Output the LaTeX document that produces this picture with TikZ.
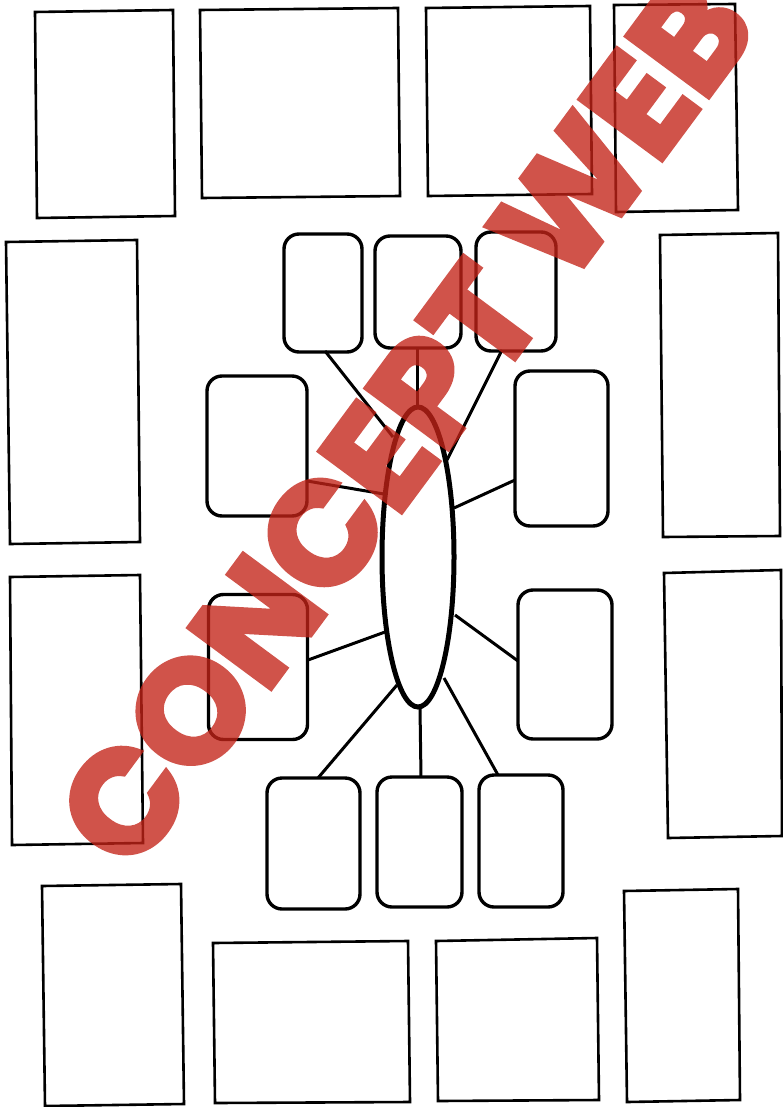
\documentclass[tikz,border=0pt]{standalone}
\usepackage{fontspec}
\newfontfamily\wmfont{Poppins}[BoldFeatures={FakeBold=3.6}]
\usetikzlibrary{shapes.geometric}
\definecolor{wmred}{RGB}{195,35,24}
\begin{document}
\begin{tikzpicture}[x=1pt,y=-1pt,
  obox/.style={draw=black,line width=2.6pt,line join=miter},
  rbox/.style={draw=black,line width=3.4pt,rounded corners=15pt,rectangle,inner sep=0pt},
  conn/.style={draw=black,line width=3pt},
  hub/.style={draw=black,line width=5pt,ellipse,inner sep=0pt,minimum width=72pt,minimum height=300pt},
  wm/.style={rotate=53.5,text=wmred,inner sep=0pt,
    font=\wmfont\bfseries\fontsize{145}{145}\selectfont}]
\fill[white] (0,0) rectangle (783,1107);
\useasboundingbox (0,0) rectangle (783,1107);
% outer rectangles
\draw[obox] (35,12) -- (173,10) -- (175,216) -- (37,218) -- cycle;
\draw[obox] (200,10) -- (398,8) -- (400,196) -- (202,198) -- cycle;
\draw[obox] (426,8) -- (590,6) -- (592,194) -- (428,196) -- cycle;
\draw[obox] (614,5) -- (735,4) -- (738,210) -- (616,212) -- cycle;
\draw[obox] (6,242) -- (137,240) -- (140,542) -- (10,544) -- cycle;
\draw[obox] (10,577) -- (140,575) -- (143,843) -- (12,845) -- cycle;
\draw[obox] (660,235) -- (778,233) -- (780,536) -- (663,537) -- cycle;
\draw[obox] (664,573) -- (781,570) -- (782,836) -- (668,838) -- cycle;
\draw[obox] (42,886) -- (181,884) -- (184,1104) -- (45,1106) -- cycle;
\draw[obox] (213,943) -- (408,941) -- (410,1102) -- (215,1103) -- cycle;
\draw[obox] (436,941) -- (597,938) -- (599,1100) -- (438,1101) -- cycle;
\draw[obox] (624,891) -- (738,889) -- (740,1100) -- (627,1102) -- cycle;
% hub
\node[hub] (E) at (418,557) {};
% inner rounded boxes
\node[rbox,minimum width=78pt,minimum height=118pt] (A) at (323,293) {};
\node[rbox,minimum width=86pt,minimum height=112pt] (B) at (418,292) {};
\node[rbox,minimum width=80pt,minimum height=119pt] (C) at (516,291.5) {};
\node[rbox,minimum width=100pt,minimum height=140pt] (D) at (257,446) {};
\node[rbox,minimum width=99pt,minimum height=145pt] (Eb) at (258,667) {};
\node[rbox,minimum width=93pt,minimum height=155pt] (F) at (561.5,448.5) {};
\node[rbox,minimum width=94pt,minimum height=149pt] (G) at (565,664.5) {};
\node[rbox,minimum width=93pt,minimum height=131pt] (H) at (313.5,843.5) {};
\node[rbox,minimum width=85pt,minimum height=130pt] (I) at (419.5,842) {};
\node[rbox,minimum width=84pt,minimum height=132pt] (J) at (521,841) {};
% connector endpoints
\coordinate (a1) at (325,351);  \coordinate (a2) at (393,437);
\coordinate (b1) at (417,348);  \coordinate (b2) at (417,407);
\coordinate (c1) at (502,350);  \coordinate (c2) at (447,460);
\coordinate (d1) at (307,481);  \coordinate (d2) at (384,494);
\coordinate (f1) at (515,480);  \coordinate (f2) at (454,508);
\coordinate (e1) at (308,660);  \coordinate (e2) at (385,632);
\coordinate (g1) at (518,661);  \coordinate (g2) at (455,615);
\coordinate (h1) at (318,778);  \coordinate (h2) at (397,685);
\coordinate (i1) at (421,777);  \coordinate (i2) at (420,708);
\coordinate (j1) at (498,775);  \coordinate (j2) at (444,678);
\draw[conn] (a1) -- (a2);
\draw[conn] (b1) -- (b2);
\draw[conn] (c1) -- (c2);
\draw[conn] (d1) -- (d2);
\draw[conn] (f1) -- (f2);
\draw[conn] (e1) -- (e2);
\draw[conn] (g1) -- (g2);
\draw[conn] (h1) -- (h2);
\draw[conn] (i1) -- (i2);
\draw[conn] (j1) -- (j2);
% watermark
\begin{scope}[transparency group,opacity=0.78]
  \node[wm] (W) at (405,421) {CONCEPT WEB};
\end{scope}
\end{tikzpicture}
\end{document}
